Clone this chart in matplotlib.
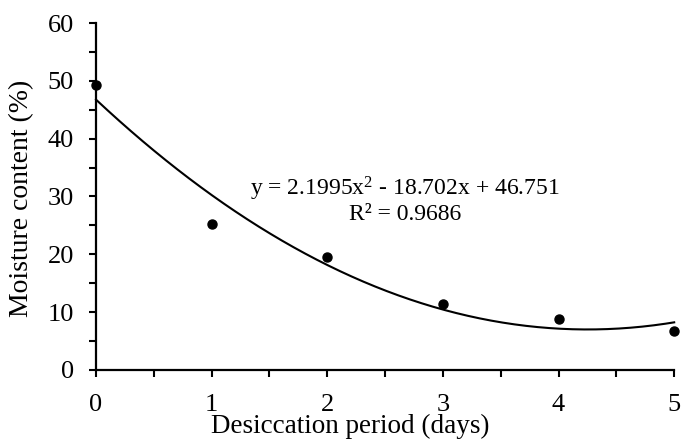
import numpy as np
import matplotlib
matplotlib.use("Agg")
import matplotlib.pyplot as plt

# ── Data ──────────────────────────────────────────────────────────────────────
days      = [0, 1, 2, 3, 4, 5]
moisture  = [49.2, 25.3, 19.6, 11.4, 8.8, 6.8]
trend_cf  = [2.1995, -18.702, 46.751]     # quadratic trendline from the chart
eq_text   = "y = 2.1995x$^{2}$ - 18.702x + 46.751"
r2_text   = "R² = 0.9686"
# ─────────────────────────────────────────────────────────────────────────────

plt.rcParams["font.family"] = ["Liberation Serif", "DejaVu Serif"]
plt.rcParams["mathtext.fontset"] = "custom"
plt.rcParams["mathtext.rm"] = "Liberation Serif"
plt.rcParams["mathtext.it"] = "Liberation Serif"

fig = plt.figure(figsize=(6.81, 4.43), dpi=100)
ax = fig.add_axes([0.141, 0.165, 0.849, 0.783])

xs = np.linspace(min(days), max(days), 200)
ax.plot(xs, np.polyval(trend_cf, xs), color="black", linewidth=1.5, zorder=2)
ax.plot(days, moisture, "o", color="black", markersize=6.5, zorder=3)

ax.set_xlim(0, 5)
ax.set_ylim(0, 60)
ax.set_xticks(np.arange(0, 6, 1))
ax.set_xticks(np.arange(0, 5.01, 0.5), minor=True)
ax.set_yticks(np.arange(0, 61, 10))
ax.set_yticks(np.arange(0, 61, 5), minor=True)

for s in ("top", "right"):
    ax.spines[s].set_visible(False)
for s in ("left", "bottom"):
    ax.spines[s].set_linewidth(1.6)
    ax.spines[s].set_clip_on(False)

ax.tick_params(which="both", direction="out", length=5, width=1.5, color="black")
ax.tick_params(axis="x", which="major", labelsize=19, pad=12)
ax.tick_params(axis="y", which="major", labelsize=19, pad=11)

ax.set_xlabel("Desiccation period (days)", fontsize=19.5, va="bottom")
ax.xaxis.set_label_coords(0.439, -0.2)
ax.set_ylabel("Moisture content (%)", fontsize=20)
ax.yaxis.set_label_coords(-0.107, 0.495)

ax.text(2.67, 31.3, eq_text, fontsize=17, ha="center", va="center")
ax.text(2.67, 26.8, r2_text, fontsize=17, ha="center", va="center")

for ln in ax.lines:
    ln.set_clip_on(False)

fig.savefig("out.png", dpi=100)
